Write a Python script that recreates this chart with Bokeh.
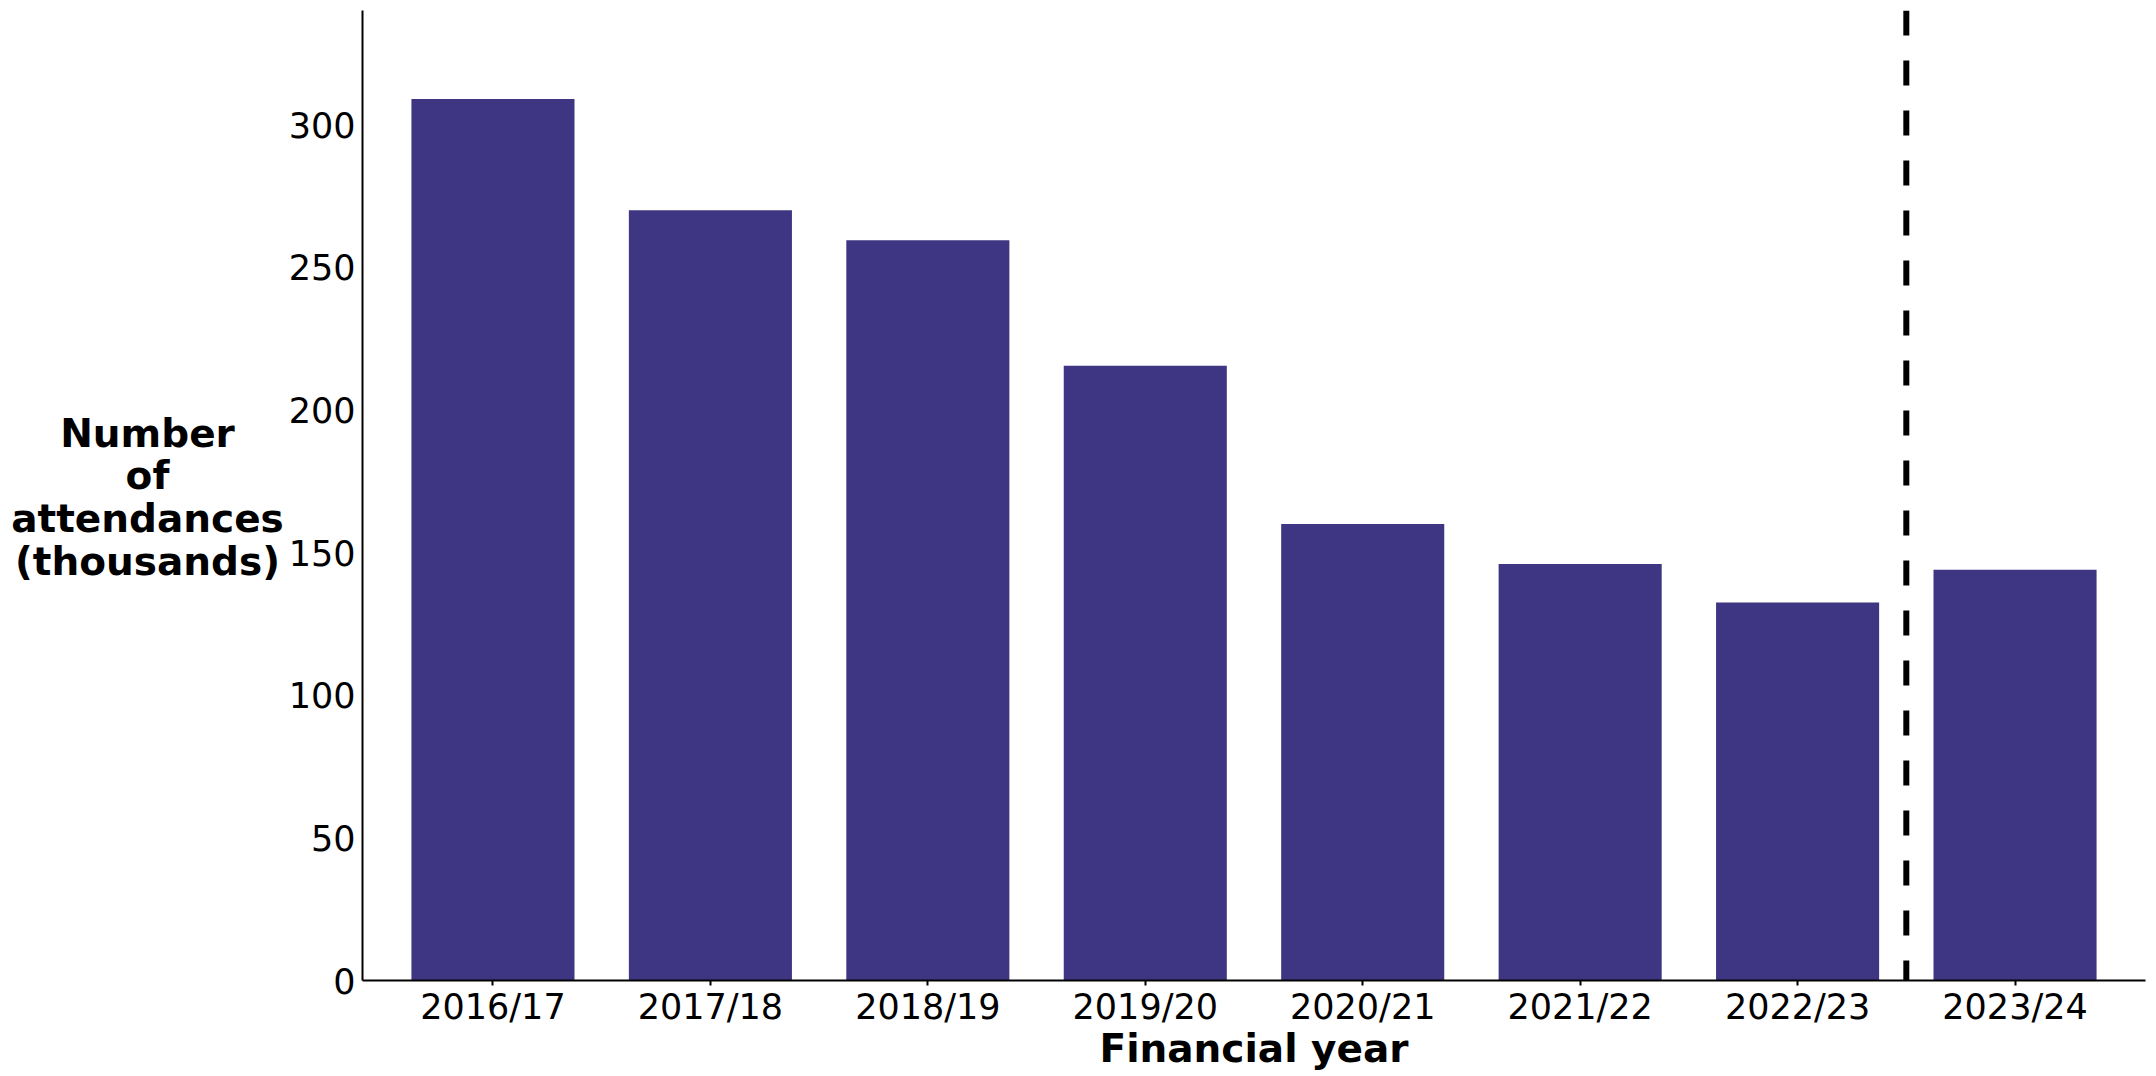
from bokeh.plotting import figure
from bokeh.layouts import row
from bokeh.models import FactorRange, Range1d, FixedTicker, Span
from bokeh.core.properties import value
from bokeh.embed import file_html
from bokeh.resources import INLINE

# Data
categories = ["2016/17", "2017/18", "2018/19", "2019/20",
              "2020/21", "2021/22", "2022/23", "2023/24"]
attendances = [309, 270, 259.5, 215.5, 160, 146, 132.5, 144]
y_ticks = [0, 50, 100, 150, 200, 250, 300]
y_label = "Number\nof\nattendances\n(thousands)"
x_label = "Financial year"

BAR_COLOR = "#3e3682"
FONT = "DejaVu Sans"
H = 1076
LABEL_W = 284

# ---- left panel: horizontal y-axis title ----
lp = figure(width=LABEL_W, height=H, x_range=Range1d(0, LABEL_W),
            y_range=Range1d(H, 0), x_axis_type=None, y_axis_type=None,
            output_backend="svg", toolbar_location=None)
lp.min_border = 0
lp.outline_line_color = None
lp.xgrid.visible = False
lp.ygrid.visible = False
lp.text(x=[147], y=[540], text=[y_label], text_align="center",
        text_baseline="middle", text_font=value(FONT),
        text_font_style="bold", text_font_size="39px",
        text_line_height=0.95, text_color="black")

# ---- main chart ----
p = figure(
    width=2150 - LABEL_W, height=H,
    x_range=FactorRange(factors=categories, range_padding=0.1,
                        range_padding_units="absolute"),
    y_range=Range1d(0, 340),
    output_backend="svg", toolbar_location=None,
)
p.min_border = 0
p.min_border_left = 362 - LABEL_W
p.min_border_right = 5
p.min_border_top = 10
p.min_border_bottom = 96
p.outline_line_color = None
p.xgrid.visible = False
p.ygrid.visible = False

p.vbar(x=categories, top=attendances, width=0.75,
       fill_color=BAR_COLOR, line_color=None)

# dashed divider between 2022/23 and 2023/24 (factor boundary)
p.add_layout(Span(location=7.0, dimension="height", line_color="black",
                  line_width=6, line_dash="25 25"))

for ax in (p.xaxis[0], p.yaxis[0]):
    ax.axis_line_width = 2
    ax.axis_line_color = "black"
    ax.major_label_text_font = FONT
    ax.major_label_text_font_size = "35px"
    ax.major_label_text_color = "black"
    ax.minor_tick_line_color = None
    ax.major_tick_in = 0

p.xaxis.major_tick_out = 5
p.xaxis.major_tick_line_width = 2
p.xaxis.major_label_standoff = 1
p.xaxis.axis_label = x_label
p.xaxis.axis_label_text_font = FONT
p.xaxis.axis_label_text_font_style = "bold"
p.xaxis.axis_label_text_font_size = "39px"
p.xaxis.axis_label_text_color = "black"
p.xaxis.axis_label_standoff = -4

p.yaxis.major_tick_out = 0
p.yaxis.major_tick_line_color = None
p.yaxis.major_label_standoff = 7
p.yaxis.ticker = FixedTicker(ticks=y_ticks)

layout = row(lp, p, spacing=0)
open("out.html", "w").write(file_html(layout, INLINE))
